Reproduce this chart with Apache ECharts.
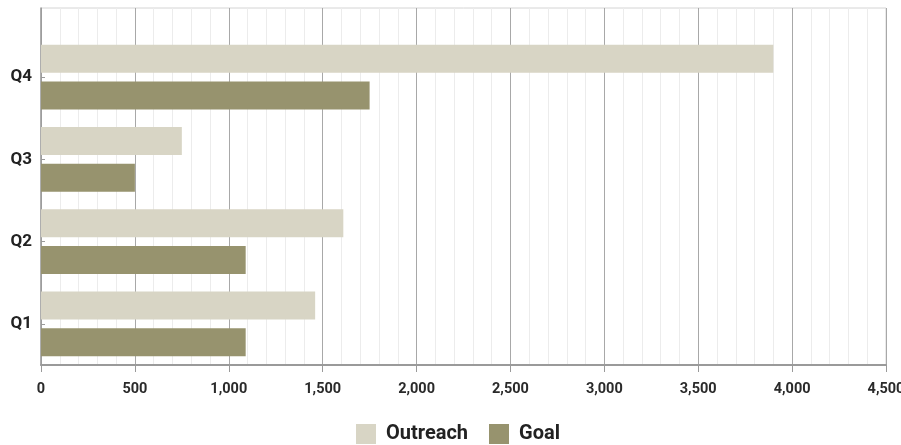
<!DOCTYPE html>
<html>
<head>
<meta charset="utf-8">
<script src="https://cdn.jsdelivr.net/npm/echarts@6/dist/echarts.min.js"></script>
<style>
html,body{margin:0;padding:0;background:#fff;}
#chart{width:901px;height:445px;}
</style>
</head>
<body>
<div id="chart"></div>
<script>
const categories = ['Q1', 'Q2', 'Q3', 'Q4'];
const outreach = [1460, 1610, 750, 3900];
const goal = [1090, 1090, 500, 1750];
const xTicks = [0, 500, 1000, 1500, 2000, 2500, 3000, 3500, 4000, 4500];

const FONT = 'Roboto';
const chart = echarts.init(document.getElementById('chart'), null, {renderer: 'canvas'});
const option = {
  animation: false,
  backgroundColor: '#fff',
  grid: [
    {left: 41, right: 15, top: 8, bottom: 80, outerBoundsMode: 'none', containLabel: false, show: true, borderColor: '#d4d4d4', borderWidth: 1, backgroundColor: 'transparent'},
    {left: 41, right: 15, top: 36, bottom: 80, outerBoundsMode: 'none', containLabel: false}
  ],
  xAxis: [
    {
      type: 'value', gridIndex: 0, min: xTicks[0], max: xTicks[xTicks.length - 1], interval: 500,
      axisLine: {show: true, lineStyle: {color: '#9a9a9a', width: 2}},
      axisTick: {show: true, length: 7, lineStyle: {color: '#9a9a9a', width: 1}},
      axisLabel: {
        fontFamily: FONT, fontWeight: 'bold', fontSize: 14.5, color: '#2a2a2a', margin: 17,
        formatter: v => v.toLocaleString('en-US')
      },
      splitLine: {show: true, lineStyle: {color: '#a8a8a8', width: 1}},
      minorTick: {show: false, splitNumber: 5},
      minorSplitLine: {show: true, lineStyle: {color: '#ececec', width: 1}}
    },
    {
      type: 'value', gridIndex: 1, min: 0, max: 4500, show: false
    }
  ],
  yAxis: [
    {
      type: 'value', gridIndex: 0, min: 0, max: 1,
      axisLine: {show: true, lineStyle: {color: '#9a9a9a', width: 1.5}},
      axisTick: {show: false}, axisLabel: {show: false}, splitLine: {show: false}
    },
    {
      type: 'category', gridIndex: 1, data: categories,
      axisLine: {show: false},
      axisTick: {show: true, inside: true, alignWithLabel: true, length: 4, lineStyle: {color: '#9a9a9a'}},
      axisLabel: {fontFamily: FONT, fontWeight: 'bold', fontSize: 17, color: '#222', margin: 9},
      splitLine: {show: false}
    }
  ],
  legend: {
    data: ['Outreach', 'Goal'],
    left: 356, top: 424, padding: 0,
    itemWidth: 20, itemHeight: 20, itemGap: 21, icon: 'rect',
    textStyle: {fontFamily: FONT, fontWeight: 'bold', fontSize: 20, color: '#222', padding: [0, 0, 0, 5]}
  },
  series: [
    {
      name: 'Outreach', type: 'bar', xAxisIndex: 1, yAxisIndex: 1, data: outreach,
      barWidth: 28, barGap: '32%', itemStyle: {color: '#d8d5c5'}
    },
    {
      name: 'Goal', type: 'bar', xAxisIndex: 1, yAxisIndex: 1, data: goal,
      barWidth: 28, barGap: '32%', itemStyle: {color: '#97936e'}
    }
  ]
};
chart.setOption(option);
</script>
</body>
</html>
